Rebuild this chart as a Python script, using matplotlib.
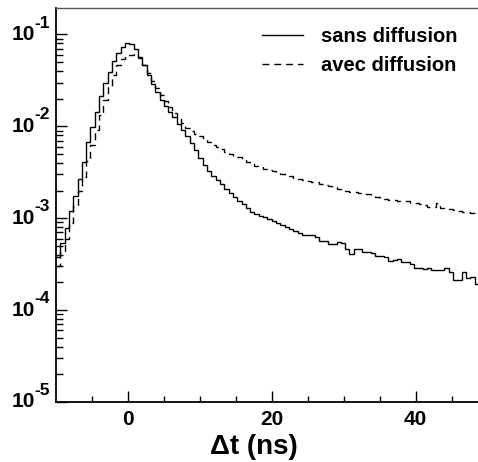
"""Delta-t distribution, with and without diffusion (ROOT-style log histogram)."""
import matplotlib
matplotlib.use("Agg")
import matplotlib.pyplot as plt
import numpy as np
from matplotlib.ticker import FixedLocator, LogLocator, FuncFormatter, NullFormatter

plt.rcParams["font.family"] = ["Liberation Sans", "DejaVu Sans"]

# binning: 0.6 ns bins starting at -10 ns
bin_start = -10.0
bin_width = 0.6

sans_diffusion = [
    3.8e-4, 5.4e-4, 7.9e-4, 1.2e-3, 1.75e-3, 2.7e-3, 4.1e-3, 6.8e-3, 9.9e-3, 1.44e-2,
    2.15e-2, 2.95e-2, 3.95e-2, 5.1e-2, 6.3e-2, 7.3e-2, 8.0e-2, 7.8e-2, 7.0e-2, 5.7e-2,
    4.6e-2, 3.6e-2, 2.9e-2, 2.35e-2, 1.95e-2, 1.65e-2, 1.45e-2, 1.26e-2, 1.07e-2, 9.1e-3,
    7.8e-3, 6.6e-3, 5.5e-3, 4.5e-3, 3.8e-3, 3.3e-3, 2.9e-3, 2.6e-3, 2.35e-3, 2.1e-3,
    1.9e-3, 1.7e-3, 1.55e-3, 1.42e-3, 1.3e-3, 1.18e-3, 1.12e-3, 1.07e-3, 1.03e-3, 9.8e-4,
    9.3e-4, 8.9e-4, 8.5e-4, 8.1e-4, 7.6e-4, 7.2e-4, 6.9e-4, 6.6e-4, 6.6e-4, 6.6e-4,
    6.3e-4, 5.7e-4, 5.6e-4, 5.25e-4, 5.3e-4, 5.45e-4, 5.4e-4, 4.6e-4, 4.1e-4, 4.6e-4,
    4.6e-4, 4.3e-4, 4.25e-4, 4.2e-4, 3.9e-4, 3.9e-4, 3.8e-4, 3.4e-4, 3.5e-4, 3.6e-4,
    3.3e-4, 3.3e-4, 3.2e-4, 2.9e-4, 2.9e-4, 2.8e-4, 2.9e-4, 2.7e-4, 2.7e-4, 2.7e-4,
    2.9e-4, 2.6e-4, 2.15e-4, 2.15e-4, 2.6e-4, 2.25e-4, 2.3e-4, 1.9e-4,
]

avec_diffusion = [
    3.05e-4, 4.4e-4, 6.0e-4, 8.9e-4, 1.36e-3, 1.97e-3, 2.8e-3, 4.2e-3, 6.3e-3, 9.1e-3,
    1.33e-2, 1.93e-2, 2.66e-2, 3.58e-2, 4.63e-2, 5.4e-2, 5.8e-2, 5.95e-2, 6.1e-2, 5.5e-2,
    4.7e-2, 3.8e-2, 3.1e-2, 2.6e-2, 2.2e-2, 1.9e-2, 1.62e-2, 1.4e-2, 1.25e-2, 1.1e-2,
    9.6e-3, 8.8e-3, 8.2e-3, 7.8e-3, 7.3e-3, 6.8e-3, 6.3e-3, 6.0e-3, 5.6e-3, 5.3e-3,
    5.0e-3, 4.8e-3, 4.6e-3, 4.4e-3, 4.1e-3, 3.9e-3, 3.7e-3, 3.6e-3, 3.45e-3, 3.35e-3,
    3.25e-3, 3.15e-3, 3.05e-3, 2.95e-3, 2.85e-3, 2.75e-3, 2.65e-3, 2.6e-3, 2.55e-3, 2.5e-3,
    2.45e-3, 2.35e-3, 2.28e-3, 2.24e-3, 2.18e-3, 2.1e-3, 2.05e-3, 2.0e-3, 1.95e-3, 1.92e-3,
    1.88e-3, 1.85e-3, 1.82e-3, 1.78e-3, 1.72e-3, 1.66e-3, 1.6e-3, 1.56e-3, 1.56e-3, 1.55e-3,
    1.55e-3, 1.54e-3, 1.48e-3, 1.45e-3, 1.42e-3, 1.38e-3, 1.34e-3, 1.32e-3, 1.45e-3, 1.3e-3,
    1.27e-3, 1.26e-3, 1.22e-3, 1.2e-3, 1.18e-3, 1.16e-3, 1.13e-3, 1.12e-3,
]

labels = ["sans diffusion", "avec diffusion"]
x_major = [0, 20, 40]
x_minor = [-5, 5, 10, 15, 25, 30, 35, 45]
y_exponents = [-5, -4, -3, -2, -1]

edges = bin_start + bin_width * np.arange(len(sans_diffusion) + 1)

fig = plt.figure(figsize=(4.78, 4.62), dpi=100)
ax = fig.add_axes([0.117, 0.13, 0.885, 0.853])

ax.stairs(sans_diffusion, edges, baseline=None, color="black", linewidth=1.0,
          label=labels[0])
ax.stairs(avec_diffusion, edges, baseline=None, color="black", linewidth=1.0,
          linestyle=(0, (5, 3.5)), label=labels[1])

ax.set_yscale("log")
ax.set_xlim(-10, 48.8)
ax.set_ylim(1e-5, 0.195)

ax.xaxis.set_major_locator(FixedLocator(x_major))
ax.xaxis.set_minor_locator(FixedLocator(x_minor))
ax.yaxis.set_major_locator(FixedLocator([10.0 ** e for e in y_exponents]))
ax.yaxis.set_minor_locator(LogLocator(base=10, subs=np.arange(2, 10), numticks=20))
ax.yaxis.set_minor_formatter(NullFormatter())
ax.yaxis.set_major_formatter(NullFormatter())
ax.xaxis.set_major_formatter(FuncFormatter(lambda v, p: "%d" % v))

ax.tick_params(axis="both", which="both", direction="in", top=False, right=False)
ax.tick_params(axis="y", which="major", length=8, width=1.0)
ax.tick_params(axis="y", which="minor", length=5, width=1.0)
ax.tick_params(axis="x", which="major", length=8, width=1.0, labelsize=15, pad=6)
ax.tick_params(axis="x", which="minor", length=4, width=1.0)
for lab in ax.get_xticklabels():
    lab.set_fontweight("bold")

# ROOT-style "10^n" labels: base and raised exponent as separate texts
for e in y_exponents:
    ax.annotate("10", xy=(0, 10.0 ** e), xycoords=("axes fraction", "data"),
                xytext=(-15, 0), textcoords="offset points",
                ha="right", va="center", fontsize=15, fontweight="bold")
    ax.annotate("%d" % e, xy=(0, 10.0 ** e), xycoords=("axes fraction", "data"),
                xytext=(-15.5, 5), textcoords="offset points",
                ha="left", va="baseline", fontsize=12.5, fontweight="bold")

for side in ("left", "bottom"):
    ax.spines[side].set_linewidth(1.3)
ax.spines["top"].set_linewidth(1.0)
ax.spines["top"].set_color("#555555")
ax.spines["right"].set_visible(False)

fig.text(0.532, 0.004, "\u0394t (ns)", fontsize=20, fontweight="bold",
         ha="center", va="bottom")

leg = ax.legend(loc="upper left", bbox_to_anchor=(0.488, 0.952), frameon=False,
                prop={"size": 14.5, "weight": "bold"}, handlelength=2.0,
                handletextpad=0.9, labelspacing=0.5, borderpad=0,
                borderaxespad=0)

fig.savefig("out.png", dpi=100)
